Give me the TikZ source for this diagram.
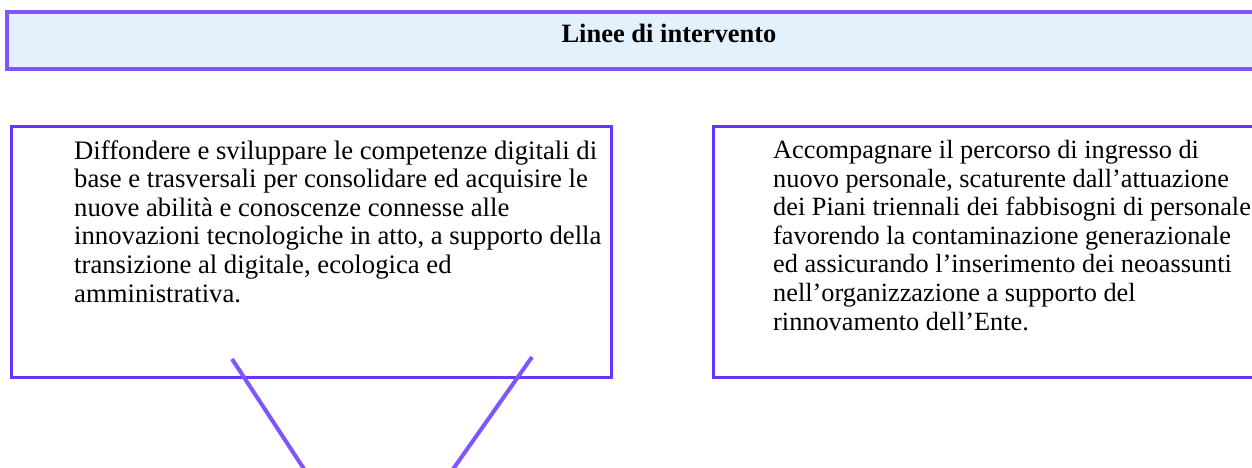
\documentclass[tikz,border=0pt]{standalone}
\usepackage{fontspec}
\setmainfont{Liberation Serif}
\definecolor{bordA}{HTML}{7F55FF}
\definecolor{bordB}{HTML}{6633FF}
\definecolor{fillA}{HTML}{E3F1FC}
\begin{document}
\begin{tikzpicture}[x=1pt,y=-1pt,
  bodytext/.style={anchor=north west,inner sep=0pt,align=left,font=\fontsize{26.7}{28.6}\selectfont},
  boxline/.style={draw=bordB,line width=3pt},
  slant/.style={draw=bordA,line width=4pt}]
\useasboundingbox (0,0) rectangle (1252,468);
\draw[fill=fillA,draw=bordA,line width=4pt] (7,12) rectangle (1262,69);
\node[inner sep=0pt,font=\fontsize{26.5}{28.6}\selectfont\bfseries] (title) at (669,33) {Linee di intervento};
\draw[boxline] (11,127) rectangle (611,377);
\draw[boxline] (713,127) rectangle (1262,377);
\node[bodytext] (left) at (74,140) {Diffondere e sviluppare le competenze digitali di\\base e trasversali per consolidare ed acquisire le\\nuove abilità e conoscenze connesse alle\\innovazioni tecnologiche in atto, a supporto della\\transizione al digitale, ecologica ed\\amministrativa.};
\node[bodytext,font=\fontsize{26.3}{28.6}\selectfont] (right) at (773,140) {Accompagnare il percorso di ingresso di\\nuovo personale, scaturente dall’attuazione\\dei Piani triennali dei fabbisogni di personale\\favorendo la contaminazione generazionale\\ed assicurando l’inserimento dei neoassunti\\nell’organizzazione a supporto del\\rinnovamento dell’Ente.};
\coordinate (a1) at (232,359);
\coordinate (a2) at (306,472);
\coordinate (b1) at (532,357);
\coordinate (b2) at (451,472);
\draw[slant] (a1) -- (a2);
\draw[slant] (b1) -- (b2);
\end{tikzpicture}
\end{document}
